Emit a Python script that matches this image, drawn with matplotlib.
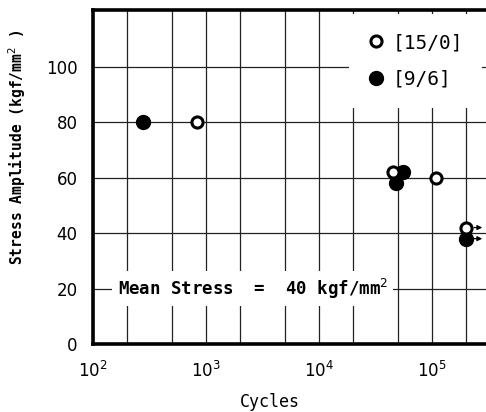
import numpy as np
from matplotlib import pyplot as plt
from matplotlib.ticker import LogLocator, FixedLocator, NullFormatter

# [15/0] laminate (open circles), last point is a run-out
cycles_15_0 = [8.3e2, 4.5e4, 1.08e5, 2.0e5]
stress_15_0 = [80, 62, 60, 42]
# [9/6] laminate (filled circles), last point is a run-out
cycles_9_6 = [2.8e2, 4.8e4, 5.6e4, 2.0e5]
stress_9_6 = [80, 58, 62, 38]

runout_cycles = [2.0e5, 2.0e5]
runout_stress = [42, 38]

y_ticks = [0, 20, 40, 60, 80, 100]
x_ticks = [1e2, 1e3, 1e4, 1e5]
x_labels = ['$10^{2}$', '$10^{3}$', '$10^{4}$', '$10^{5}$']

mono = 'DejaVu Sans Mono'

fig = plt.figure(figsize=(4.86, 4.12), dpi=100)
ax = fig.add_axes([0.191, 0.165, 0.809, 0.811])

ax.set_xscale('log')
ax.set_xlim(1e2, 10 ** 5.48)
ax.set_ylim(0, 120.5)

ax.xaxis.set_major_locator(FixedLocator(x_ticks))
ax.xaxis.set_minor_locator(LogLocator(base=10, subs=[2, 5]))
ax.xaxis.set_minor_formatter(NullFormatter())
ax.set_xticks(x_ticks)
ax.set_xticklabels(x_labels, fontsize=12)
ax.set_yticks(y_ticks)
ax.set_yticklabels([str(v) for v in y_ticks], fontsize=12)
ax.tick_params(axis='both', which='both', length=0)
ax.tick_params(axis='x', pad=12)
ax.tick_params(axis='y', pad=11)

ax.grid(True, which='both', color='#222222', linewidth=0.9)
ax.set_axisbelow(True)

for side in ['left', 'bottom', 'top']:
    ax.spines[side].set_linewidth(2.6)
ax.spines['right'].set_visible(False)

ax.plot(cycles_15_0, stress_15_0, 'o', ls='none', ms=8, mfc='white', mec='black',
        mew=2.2, label='[15/0]', zorder=4)
ax.plot(cycles_9_6, stress_9_6, 'o', ls='none', ms=10, mfc='black', mec='black',
        label='[9/6]', zorder=3)

for c, s in zip(runout_cycles, runout_stress):
    ax.annotate('', xy=(c * 1.48, s), xytext=(c * 1.12, s),
                arrowprops=dict(arrowstyle='-|>', color='black', lw=0.9,
                                mutation_scale=7), zorder=5)

ax.text(1.66e2, 20, 'Mean Stress  =  40 kgf/mm$^2$', fontsize=12.5, family=mono,
        fontweight='bold', va='center', ha='left',
        bbox=dict(facecolor='white', edgecolor='none', pad=4), zorder=3)

leg = ax.legend(loc='upper right', bbox_to_anchor=(1.0, 1.0), frameon=True,
                facecolor='white', edgecolor='none', framealpha=1, fancybox=False,
                prop={'family': mono, 'size': 14}, handletextpad=0.42,
                handlelength=0.8, borderaxespad=0.2, borderpad=1.0,
                labelspacing=0.9)

ax.set_ylabel('Stress Amplitude (kgf/mm$^2$ )', family=mono, fontsize=10.5,
              fontweight='bold')
ax.yaxis.set_label_coords(-0.165, 0.59)
ax.set_xlabel('Cycles', family=mono, fontsize=12)
ax.xaxis.set_label_coords(0.45, -0.147)

plt.savefig('out.png', dpi=100)
plt.close()
